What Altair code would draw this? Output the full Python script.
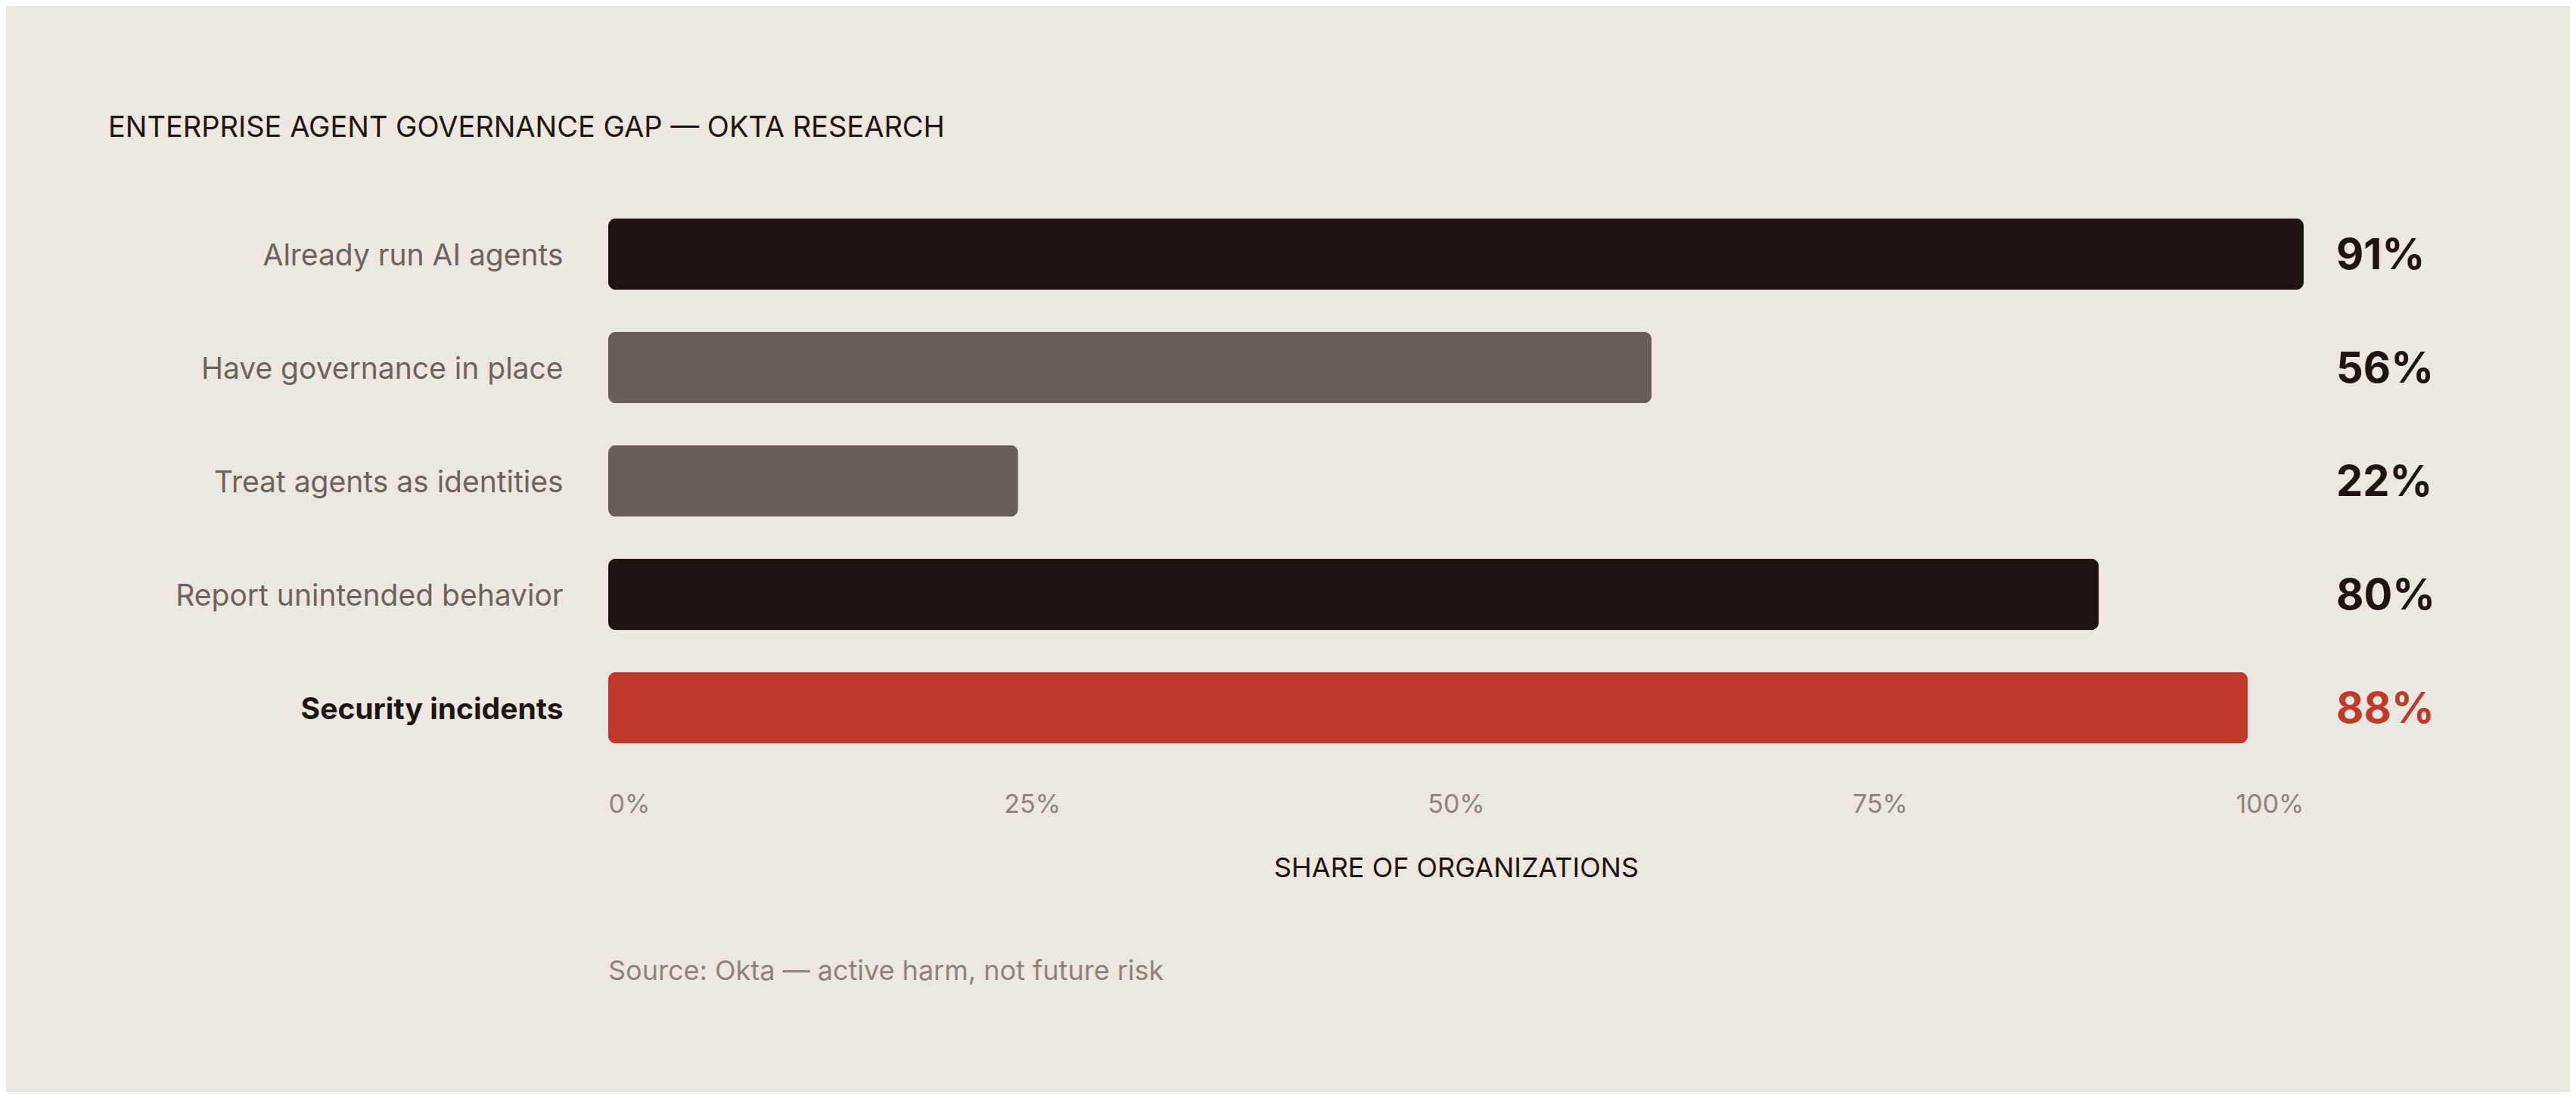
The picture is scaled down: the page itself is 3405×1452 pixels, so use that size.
import pandas as pd
import altair as alt

# data
categories = ["Already run AI agents", "Have governance in place", "Treat agents as identities",
              "Report unintended behavior", "Security incidents"]
values = [91, 56, 22, 80, 88]
bar_colors = ["#1c1512", "#665e58", "#665e58", "#1c1512", "#c0392b"]
tick_shares = [0, 0.25, 0.5, 0.75, 1]
source_note = ["Source: Okta \u2014 active harm, not future risk"]

FONT = "Inter"
DARK = "#1c1512"
RED = "#c0392b"
top = max(values)

df = pd.DataFrame({"label": categories, "value": values})

base = alt.Chart(df)

bars = base.mark_bar(cornerRadius=10).encode(
    x=alt.X("value:Q",
            scale=alt.Scale(domain=[0, top], nice=False, zero=True),
            axis=alt.Axis(values=[top * s for s in tick_shares],
                          labelExpr="format(datum.value / %d, '.0%%')" % top,
                          title="SHARE OF ORGANIZATIONS", grid=False, ticks=False, domain=False,
                          labelFlush=True, labelFont=FONT, labelFontSize=34, labelColor="#8c847c",
                          labelPadding=36, titleFont=FONT, titleFontSize=36, titleFontWeight="normal",
                          titleColor=DARK, titlePadding=50)),
    y=alt.Y("label:N", sort=categories, title=None,
            scale=alt.Scale(paddingInner=0.37, paddingOuter=0.185),
            axis=alt.Axis(ticks=False, domain=False, labelFont=FONT, labelFontSize=39,
                          labelPadding=60, labelLimit=700, labelBaseline="middle", labelOffset=3,
                          labelColor={"condition": {"test": "datum.value == 'Security incidents'", "value": DARK},
                                      "value": "#6b635d"},
                          labelFontWeight={"condition": {"test": "datum.value == 'Security incidents'", "value": "bold"},
                                           "value": "normal"})),
    color=alt.Color("label:N", scale=alt.Scale(domain=categories, range=bar_colors), legend=None),
)

pct = base.transform_calculate(txt="datum.value + '%'").mark_text(
    align="left", baseline="middle", font=FONT, fontSize=56, fontWeight="bold", dy=3
).encode(
    x=alt.value(2284),
    y=alt.Y("label:N", sort=categories),
    text="txt:N",
    color=alt.condition(alt.datum.label == "Security incidents", alt.value(RED), alt.value(DARK)),
)

source = alt.Chart(pd.DataFrame({"note": source_note})).mark_text(
    align="left", baseline="middle", font=FONT, fontSize=36, color="#8c847c"
).encode(x=alt.value(0), y=alt.value(1024), text="note:N")

chart = alt.layer(bars, pct, source).properties(
    width=2241,
    height=750,
    background="#ece7e0",
    padding={"left": 796, "top": 253, "right": 352, "bottom": 433},
    autosize=alt.AutoSizeParams(type="none"),
    title=alt.TitleParams("ENTERPRISE AGENT GOVERNANCE GAP \u2014 OKTA RESEARCH", anchor="start",
                          frame="group", dx=-661, offset=72, font=FONT, fontSize=38,
                          fontWeight="normal", color=DARK),
).configure_view(stroke=None)

chart.save("out.html", embed_options={"renderer": "svg", "actions": False})
